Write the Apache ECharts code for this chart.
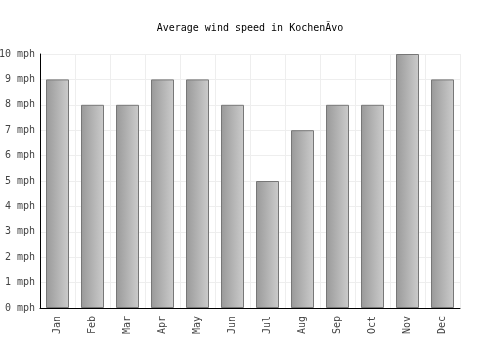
<!DOCTYPE html>
<html>
<head>
<meta charset="utf-8">
<script src="https://cdn.jsdelivr.net/npm/echarts@6/dist/echarts.min.js"></script>
<style>
  html, body { margin: 0; padding: 0; background: #fff; }
  #chart { width: 500px; height: 350px; }
</style>
</head>
<body>
<div id="chart"></div>
<script>
// 月份
var months = ['Jan', 'Feb', 'Mar', 'Apr', 'May', 'Jun', 'Jul', 'Aug', 'Sep', 'Oct', 'Nov', 'Dec']
// 平均风速 mph
var windSpeed = [9, 8, 8, 9, 9, 8, 5, 7, 8, 8, 10, 9]
var titleText = 'Average wind speed in Kochen\u00C3\u00ADvo'
var monoFont = '"DejaVu Sans Mono", monospace'

var chart = echarts.init(document.getElementById('chart'))

chart.setOption({
  animation: false,
  title: {
    text: titleText,
    left: 'center',
    top: 18,
    textStyle: {
      fontFamily: monoFont,
      fontSize: 10,
      fontWeight: 'normal',
      color: '#000'
    }
  },
  grid: {
    left: 40,
    right: 40,
    top: 54,
    bottom: 42,
    containLabel: false,
    outerBoundsMode: 'none'
  },
  xAxis: {
    type: 'category',
    data: months,
    axisLine: { lineStyle: { color: '#000', width: 1 } },
    axisTick: { show: false },
    splitLine: { show: true, lineStyle: { color: '#eee' } },
    axisLabel: {
      rotate: 90,
      fontFamily: monoFont,
      fontSize: 10,
      color: '#444',
      margin: 8
    }
  },
  yAxis: {
    type: 'value',
    min: 0,
    max: 10,
    interval: 1,
    axisLine: { show: true, lineStyle: { color: '#000', width: 1 } },
    axisTick: { show: false },
    splitLine: { lineStyle: { color: '#eee' } },
    axisLabel: {
      formatter: '{value} mph',
      fontFamily: monoFont,
      fontSize: 10,
      color: '#444',
      margin: 5
    }
  },
  series: [{
    type: 'bar',
    data: windSpeed,
    barWidth: 23,
    itemStyle: {
      borderColor: '#777',
      borderWidth: 1,
      color: new echarts.graphic.LinearGradient(0, 0, 1, 0, [
        { offset: 0, color: '#999' },
        { offset: 1, color: '#ccc' }
      ])
    }
  }]
})
</script>
</body>
</html>
